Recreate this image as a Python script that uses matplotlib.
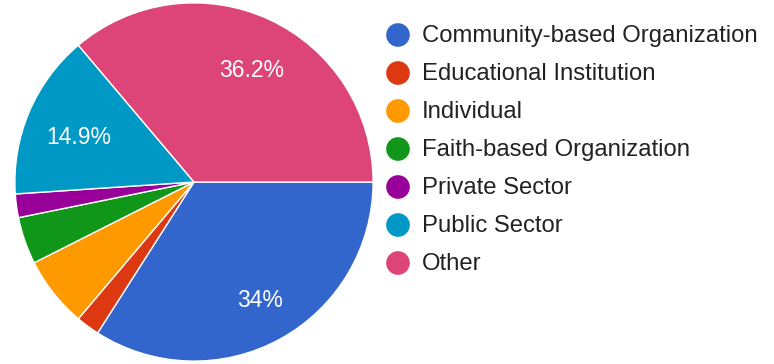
import matplotlib.pyplot as plt

categories = ['Community-based Organization', 'Educational Institution', 'Individual',
              'Faith-based Organization', 'Private Sector', 'Public Sector', 'Other']
counts = [16, 1, 3, 2, 1, 7, 17]
colors = ['#3366cc', '#dc3912', '#ff9900', '#109618', '#990099', '#0099c6', '#dd4477']

plt.rcParams['font.family'] = ['Liberation Sans', 'DejaVu Sans']

W, H = 774, 364
fig = plt.figure(figsize=(W / 100, H / 100), dpi=100)
fig.patch.set_facecolor('white')

# pie: centre (194, 182) px, radius 180 px
cx, cy, r = 194, 182, 180
ax = fig.add_axes([(cx - r) / W, (H - cy - r) / H, 2 * r / W, 2 * r / H])


def fmt(pct):
    if pct < 10:
        return ''
    s = f'{pct:.1f}'
    if s.endswith('.0'):
        s = s[:-2]
    return s + '%'


wedges, texts, autotexts = ax.pie(counts, colors=colors, startangle=0, counterclock=False,
                                  autopct=fmt, pctdistance=0.72, radius=1,
                                  wedgeprops=dict(edgecolor='white', linewidth=1))
for t in autotexts:
    x, y = t.get_position()
    t.set_position((x + 0.02, y - 0.03))
    t.set_color('white')
    t.set_fontsize(16.5)
ax.set_xlim(-1.005, 1.005)
ax.set_ylim(-1.005, 1.005)
ax.set_aspect('equal')

# legend drawn in pixel coordinates
lg = fig.add_axes([0, 0, 1, 1])
lg.set_xlim(0, W)
lg.set_ylim(H, 0)
lg.axis('off')
lg.patch.set_alpha(0)
for i, (name, col) in enumerate(zip(categories, colors)):
    y = 35 + 38 * i
    lg.scatter([398], [y], s=290, color=col, edgecolors='none')
    lg.text(422, y + 1, name, fontsize=17.2, color='#222222', va='center', ha='left')

fig.savefig('out.png', dpi=100)
